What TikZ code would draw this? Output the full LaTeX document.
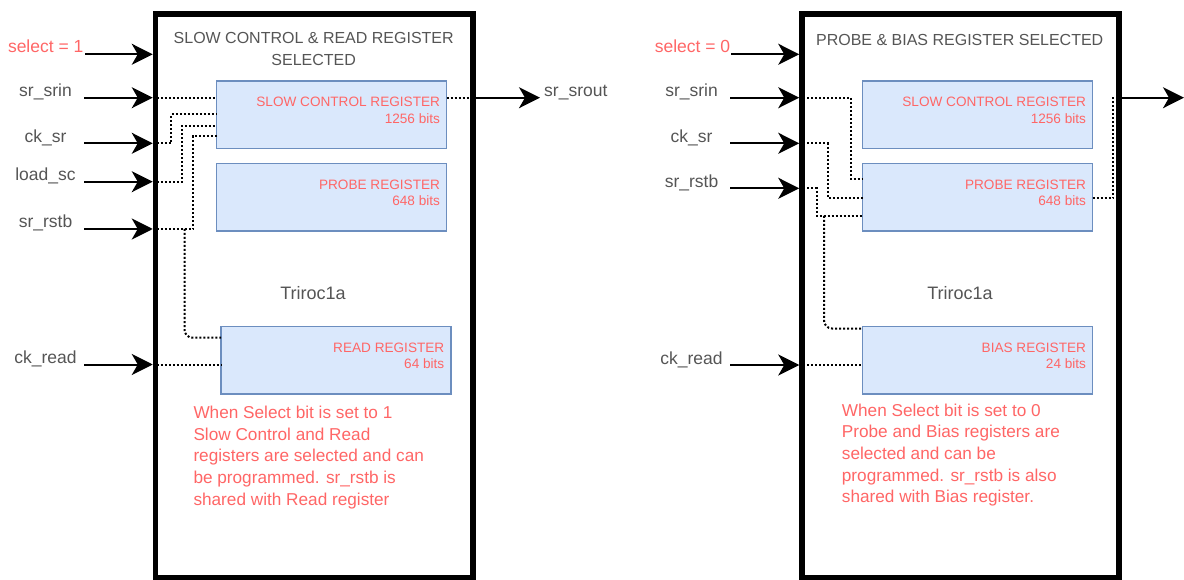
\documentclass[tikz,border=0pt]{standalone}
\usepackage{fontspec}
\setmainfont{Liberation Sans}
\usetikzlibrary{arrows.meta}
\definecolor{txtgray}{HTML}{555555}
\definecolor{notered}{HTML}{FF6666}
\definecolor{regfill}{HTML}{DAE8FC}
\definecolor{regline}{HTML}{6C8EBF}

\begin{document}
\begin{tikzpicture}[
  x=1pt, y=-1pt,
  chip/.style={
    draw,
    line width=5.5pt,
    fill=white,
    inner sep=0pt,
    minimum height=564pt
  },
  reg/.style={
    draw=regline,
    fill=regfill,
    line width=1.5pt,
    inner sep=0pt,
    outer sep=0pt,
    minimum width=230pt,
    minimum height=67.5pt,
    anchor=north west
  },
  regtxt/.style={font=\fontsize{13.6}{16.3}\selectfont, text=notered, align=right, inner sep=0pt, anchor=base east},
  lbl/.style={font=\fontsize{17.5}{20}\selectfont, text=txtgray, inner sep=0pt, anchor=base},
  title/.style={font=\fontsize{16}{22.3}\selectfont, text=txtgray, align=center, inner sep=0pt, anchor=base},
  note/.style={font=\fontsize{17.2}{21.7}\selectfont, text=notered, align=left, inner sep=0pt, anchor=base west},
  arrow/.style={-{Stealth[length=21pt,width=21pt,inset=6pt]}, line width=2pt},
  wire/.style={line width=2pt, dash pattern=on 2pt off 2pt}
]
  \useasboundingbox (0,0) rectangle (1184,580);

  % ---- left chip: select = 1
  \node[chip, minimum width=317.5pt] (chipA) at (314.25,296) {};
  \node[title] (ttlA) at (313.7,65.8) {SLOW CONTROL \& READ REGISTER\\SELECTED};
  \node[reg] (scA) at (216.7,81) {};
  \node[reg] (prA) at (216.7,163.3) {};
  \node[reg] (rdA) at (221,326.7) {};
  \node[regtxt] (scA-t) at ([xshift=-6.5pt,yshift=-42.1pt]scA.north east) {SLOW CONTROL REGISTER\\1256 bits};
  \node[regtxt] (prA-t) at ([xshift=-6.5pt,yshift=-42.1pt]prA.north east) {PROBE REGISTER\\648 bits};
  \node[regtxt] (rdA-t) at ([xshift=-6.5pt,yshift=-42.1pt]rdA.north east) {READ REGISTER\\64 bits};
  \node[lbl, font=\fontsize{18}{20}\selectfont] (nameA) at (313,299.5) {Triroc1a};
  \node[note] (noteA) at (193.3,505.1) {When Select bit is set to 1\\Slow Control and Read\\registers are selected and can\\be programmed. sr\_rstb is\\shared with Read register};

  \coordinate (selA) at (chipA.west |- 0,54.3);
  \coordinate (selA-in) at (85,54.3);
  \draw[arrow] (selA-in) -- (selA);
  \node[lbl, text=notered] (selA-l) at (45.7,52.3) {select = 1};
  \foreach \n/\y/\t in {srinA/97.7/sr\_srin, cksrA/143.3/ck\_sr, loadA/181.7/load\_sc, rstbA/229/sr\_rstb, ckrdA/364.5/ck\_read} {
    \coordinate (\n) at (chipA.west |- 0,\y);
    \coordinate (\n-in) at (84,\y);
    \draw[arrow] (\n-in) -- (\n);
    \node[lbl] (\n-l) at (45.5,\y-1) {\t};
  }

  \draw[wire] (srinA) -- (srinA -| scA.west);
  \draw[wire] (cksrA) -| (171,114.3) -- (scA.west |- 0,114.3);
  \draw[wire] (loadA) -| (182,125.7) -- (scA.west |- 0,125.7);
  \draw[wire] (rstbA) -| (193.3,135.7) -- (scA.west |- 0,135.7);
  \draw[wire, rounded corners=8pt] (184.5,229) -- (184.5,337.7) -- (rdA.west |- 0,337.7);
  \draw[wire] (ckrdA) -- (ckrdA -| rdA.west);
  \draw[wire] (scA.east |- srinA) -- (srinA -| chipA.east);
  \coordinate (outA) at (540,97.7);
  \draw[arrow] (srinA -| chipA.east) -- (outA);
  \node[lbl, anchor=base west] (outA-l) at (544,97) {sr\_srout};

  % ---- right chip: select = 0
  \node[chip, minimum width=317pt] (chipB) at (960.5,296) {};
  \node[title] (ttlB) at (959.7,45.7) {PROBE \& BIAS REGISTER SELECTED};
  \node[reg] (scB) at (862.7,81) {};
  \node[reg] (prB) at (862.7,163.3) {};
  \node[reg] (biB) at (862.7,326.7) {};
  \node[regtxt] (scB-t) at ([xshift=-6.5pt,yshift=-42.1pt]scB.north east) {SLOW CONTROL REGISTER\\1256 bits};
  \node[regtxt] (prB-t) at ([xshift=-6.5pt,yshift=-42.1pt]prB.north east) {PROBE REGISTER\\648 bits};
  \node[regtxt] (biB-t) at ([xshift=-6.5pt,yshift=-42.1pt]biB.north east) {BIAS REGISTER\\24 bits};
  \node[lbl, font=\fontsize{18}{20}\selectfont] (nameB) at (960,299.5) {Triroc1a};
  \node[note] (noteB) at (841.7,502.8) {When Select bit is set to 0\\Probe and Bias registers are\\selected and can be\\programmed. sr\_rstb is also\\shared with Bias register.};

  \coordinate (selB) at (chipB.west |- 0,54.3);
  \coordinate (selB-in) at (731,54.3);
  \draw[arrow] (selB-in) -- (selB);
  \node[lbl, text=notered] (selB-l) at (692.5,52.3) {select = 0};
  \foreach \n/\y/\t in {srinB/97.7/sr\_srin, cksrB/143.3/ck\_sr, rstbB/188.3/sr\_rstb, ckrdB/365/ck\_read} {
    \coordinate (\n) at (chipB.west |- 0,\y);
    \coordinate (\n-in) at (730,\y);
    \draw[arrow] (\n-in) -- (\n);
    \node[lbl] (\n-l) at (691.5,\y-1) {\t};
  }

  \draw[wire] (srinB) -| (851,179.3) -- (prB.west |- 0,179.3);
  \draw[wire] (cksrB) -| (827.7,197.7) -- (prB.west |- 0,197.7);
  \draw[wire] (rstbB) -| (816.7,216) -- (prB.west |- 0,216);
  \draw[wire, rounded corners=8pt] (824,216) -- (824,328.5) -- (biB.west |- 0,328.5);
  \draw[wire] (ckrdB) -- (ckrdB -| biB.west);
  \draw[wire] (prB.east |- 0,198) -| (1113.3,97.7) -- (srinB -| chipB.east);
  \coordinate (outB) at (1184,97.7);
  \draw[arrow] (srinB -| chipB.east) -- (outB);
\end{tikzpicture}
\end{document}
